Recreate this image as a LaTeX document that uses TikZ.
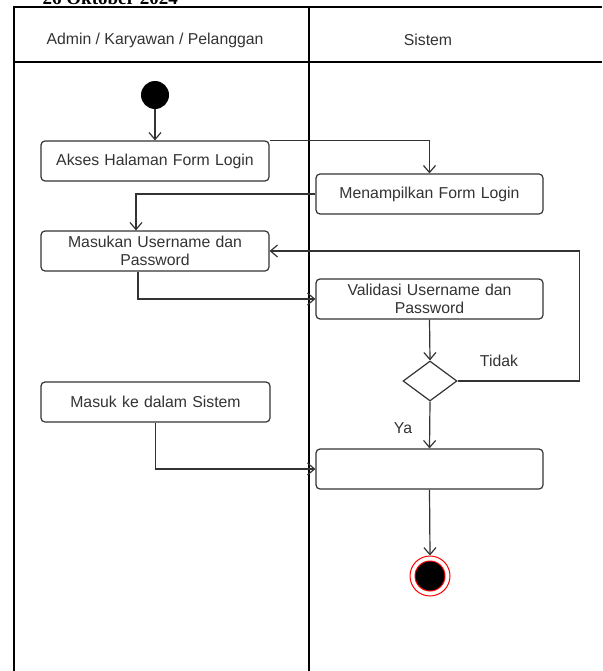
\documentclass[tikz,border=0pt]{standalone}
\usepackage{fontspec}
\setmainfont{Liberation Sans}
\newfontfamily\datefont{Liberation Serif}
\usetikzlibrary{arrows.meta,shapes.geometric}
\definecolor{ink}{HTML}{333333}
\tikzset{
  act/.style={draw=ink, rounded corners=4pt, line width=1.2pt, minimum width=228pt, minimum height=40pt, inner sep=2pt, align=center, text=ink, text width=220pt, font=\fontsize{15.8}{18.5}\selectfont},
  flow/.style={draw=ink, line width=1.2pt, -{Straight Barb[length=7pt,width=12pt,line width=1.2pt]}},
  lane/.style={draw=black, line width=1.3pt},
  lbl/.style={text=ink, font=\fontsize{15.8}{18.5}\selectfont, inner sep=0pt}
}
\begin{document}
\begin{tikzpicture}[x=1pt,y=-1pt]
\useasboundingbox (0,0) rectangle (602,671);
% cropped heading
\node[anchor=base east, inner sep=0pt, font=\datefont\bfseries\fontsize{19}{22}\selectfont] (date) at (178,4.5) {26 Oktober 2024};
% swimlanes
\draw[lane] (14,671) -- (14,7) -- (602,7);
\draw[lane] (14,62) -- (602,62);
\draw[lane] (309,7) -- (309,671);
\node[lbl] (h1) at (155,40) {Admin / Karyawan / Pelanggan};
\node[lbl] (h2) at (428,40) {Sistem};
% nodes
\node[circle, fill=black, minimum size=28pt, inner sep=0pt] (start) at (155,95) {};
\node[act] (b1) at (155,161) {Akses Halaman Form Login};
\node[act, minimum width=227pt] (b2) at (429.5,194) {Menampilkan Form Login};
\node[act] (b3) at (155,251) {Masukan Username dan\\Password};
\node[act, minimum width=227pt] (b4) at (429.5,299) {Validasi Username dan\\Password};
\node[diamond, draw=ink, line width=1.2pt, minimum width=54pt, minimum height=40pt, inner sep=0pt, aspect=1.35] (dia) at (430,381) {};
\node[act, minimum width=229pt] (b5) at (155.5,402) {Masuk ke dalam Sistem};
\node[act, minimum width=227pt] (b6) at (429.5,469) {};
\node[circle, draw=red, line width=1pt, fill=white, minimum size=40pt, inner sep=0pt] (end) at (430,576) {};
\node[circle, draw=red, line width=1pt, fill=black, minimum size=30pt, inner sep=0pt] (endin) at (430,576) {};
% labels
\node[lbl] (tidak) at (499,361) {Tidak};
\node[lbl] (ya) at (403,428) {Ya};
% connectors
\draw[flow] (start) -- (b1.north);
\draw[flow] (b1.north east) -| (b2.north);
\draw[flow] (b2.west) -| ([xshift=-19pt]b3.north);
\draw[flow] ([xshift=-17pt]b3.south) |- (b4.west);
\draw[flow] (b4.south) -- (dia.north);
\draw[flow] (dia.east) -- ++(122,0) |- (b3.east);
\draw[flow] (dia.south) -- (b6.north);
\draw[flow] (b5.south) |- (b6.west);
\draw[flow] (b6.south) -- (end.north);
\end{tikzpicture}
\end{document}
